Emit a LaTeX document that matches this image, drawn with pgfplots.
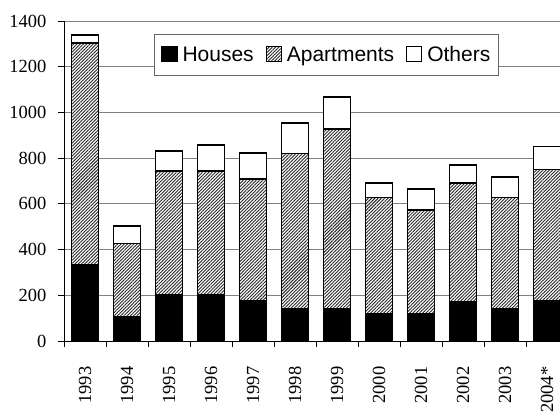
\documentclass[border=0pt]{standalone}
\usepackage{fontspec}
\setmainfont{Liberation Serif}
\newfontfamily\arialfont{Liberation Sans}
\usepackage{pgfplots}
\pgfplotsset{compat=1.18}
\usetikzlibrary{patterns.meta}

\begin{document}
\begin{tikzpicture}
\begin{axis}[
  scale only axis, width=496bp, height=320bp,
  ybar stacked, bar width=27bp,
  xmin=-0.5, xmax=11.31, ymin=0, ymax=1400,
  ytick={0,200,...,1400},
  xtick={0,...,11},
  xticklabels={1993,1994,1995,1996,1997,1998,1999,2000,2001,2002,2003,2004*},
  minor xtick={-0.5,0.5,...,11.5},
  major x tick style={draw=none},
  axis lines*=left,
  tick align=outside,
  ymajorgrids,
  grid style={draw=gray, line width=0.8bp},
  tick style={black, line width=0.8bp},
  major tick length=6bp, minor tick length=6bp,
  axis line style={black, line width=0.8bp},
  /pgf/number format/assume math mode=true,
  /pgf/number format/1000 sep={},
  tick label style={font=\fontsize{18.5bp}{20bp}\selectfont},
  yticklabel style={xshift=-8bp},
  xticklabel style={rotate=90, anchor=east, xshift=-16bp},
  legend columns=3,
  legend style={at={(0.1815,0.959)}, anchor=north west,
    draw=gray!80!black, line width=0.8bp,
    font=\fontsize{21bp}{24bp}\selectfont\arialfont,
    inner xsep=7bp, inner ysep=11bp,
    nodes={inner sep=1bp},
    /tikz/every odd column/.append style={column sep=4bp},
    /tikz/every even column/.append style={column sep=11bp}},
  legend image code/.code={\draw[#1, line width=1.1bp] (0bp,-7bp) rectangle (15bp,8bp);},
  clip=true,
]
\coordinate (bl) at (rel axis cs:0,0);
\coordinate (tr) at (rel axis cs:1,1);
\addplot[fill=black, draw=black, line width=1.6bp] coordinates {
 (0,335) (1,107) (2,203) (3,203) (4,178) (5,142) (6,142) (7,117) (8,117) (9,170) (10,142) (11,178)};
\addplot[fill=white, draw=black, line width=1.6bp,
  postaction={pattern={Lines[angle=45, distance=2.3bp, line width=0.9bp]}, pattern color=black!85}] coordinates {
 (0,969) (1,320) (2,540) (3,540) (4,531) (5,678) (6,785) (7,511) (8,455) (9,520) (10,486) (11,572)};
\addplot[fill=white, draw=black, line width=1.6bp] coordinates {
 (0,36) (1,77) (2,88) (3,114) (4,113) (5,133) (6,140) (7,64) (8,92) (9,81) (10,89) (11,101)};
\legend{Houses, Apartments, Others\hspace{8bp}}
\end{axis}
\pgfresetboundingbox
\path[use as bounding box] ([xshift=-64bp,yshift=-76bp]bl) rectangle ([yshift=21bp]tr);
\end{tikzpicture}
\end{document}
